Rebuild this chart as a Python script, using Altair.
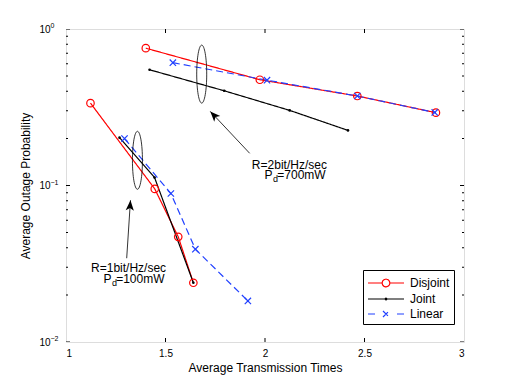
import altair as alt
import pandas as pd

# ---------------- data ----------------
SERIES = ["Disjoint", "Joint", "Linear"]
COLORS = ["#ff0000", "#000000", "#2040ff"]

# R = 2 bit/Hz/sec, Pd = 700 mW
dis_r2_x = [1.401, 1.974, 2.464, 2.859]
dis_r2_y = [0.754, 0.474, 0.373, 0.292]
joi_r2_x = [1.420, 1.795, 2.124, 2.417]
joi_r2_y = [0.549, 0.403, 0.302, 0.225]
lin_r2_x = [1.537, 2.010, 2.464, 2.853]
lin_r2_y = [0.609, 0.471, 0.373, 0.293]

# R = 1 bit/Hz/sec, Pd = 100 mW
dis_r1_x = [1.123, 1.446, 1.564, 1.640]
dis_r1_y = [0.336, 0.0951, 0.0470, 0.0239]
joi_r1_x = [1.269, 1.445, 1.640]
joi_r1_y = [0.2022, 0.1124, 0.0239]
lin_r1_x = [1.294, 1.527, 1.650, 1.914]
lin_r1_y = [0.1995, 0.0889, 0.0392, 0.0183]

# axis ticks / labels
x_ticks = [1, 1.5, 2, 2.5, 3]
x_inner_ticks = [1.5, 2, 2.5]
y_decades = [0.01, 0.1, 1]
y_exponents = ["\u22122", "\u22121", "0"]
y_minor = [0.02, 0.03, 0.04, 0.05, 0.06, 0.07, 0.08, 0.09,
           0.2, 0.3, 0.4, 0.5, 0.6, 0.7, 0.8, 0.9]

# annotations (data coordinates)
ell_x = [1.682, 1.359]
ell_y = [0.515, 0.1449]
arr_tail_x = [1.923, 1.305]
arr_tail_y = [0.1606, 0.0343]
arr_tip_x = [1.725, 1.324]
arr_tip_y = [0.2976, 0.0805]
lab_rate = ["R=2bit/Hz/sec", "R=1bit/Hz/sec"]
lab_rate_x = [2.311, 1.503]
lab_rate_y = [0.127, 0.02809]
lab_p_x = [1.998, 1.1885]
lab_pow = ["=700mW", "=100mW"]
lab_pow_x = [2.305, 1.4952]
lab_pow_y = [0.1096, 0.02389]

# ---------------- tables ----------------
rows = []
for name, curve, xs_, ys_ in [
    ("Disjoint", "r2", dis_r2_x, dis_r2_y),
    ("Joint", "r2", joi_r2_x, joi_r2_y),
    ("Linear", "r2", lin_r2_x, lin_r2_y),
    ("Disjoint", "r1", dis_r1_x, dis_r1_y),
    ("Joint", "r1", joi_r1_x, joi_r1_y),
    ("Linear", "r1", lin_r1_x, lin_r1_y),
]:
    for k, (a, b) in enumerate(zip(xs_, ys_)):
        rows.append({"series": name, "curve": name + "-" + curve, "k": k, "x": a, "y": b})
df = pd.DataFrame(rows)

ell_df = pd.DataFrame({"x": ell_x, "y": ell_y})
arr_df = pd.DataFrame({"x": arr_tail_x, "y": arr_tail_y, "x2": arr_tip_x, "y2": arr_tip_y})
rate_df = pd.DataFrame({"x": lab_rate_x, "y": lab_rate_y, "t": lab_rate})
p_df = pd.DataFrame({"x": lab_p_x, "y": lab_pow_y})
pow_df = pd.DataFrame({"x": lab_pow_x, "y": lab_pow_y, "t": lab_pow})
dec_df = pd.DataFrame({"v": y_decades, "e": y_exponents})
minor_df = pd.DataFrame({"v": y_minor})
xt_df = pd.DataFrame({"v": x_inner_ticks})

FONT = "Liberation Sans"
W, H = 398, 313

xsc = alt.Scale(domain=[1, 3], nice=False, zero=False)
ysc = alt.Scale(type="log", domain=[0.01, 1], nice=False)
csc = alt.Scale(domain=SERIES, range=COLORS)

x_axis = alt.Axis(values=x_ticks, format="~g", ticks=False, domain=False, grid=False,
                  labelFontSize=10, labelPadding=6, labelFont=FONT,
                  title="Average Transmission Times", titleFontSize=12,
                  titleFontWeight="normal", titleFont=FONT, titlePadding=4)
y_axis = alt.Axis(values=y_decades, labelExpr="'10'", ticks=False, domain=False,
                  grid=False, labelFontSize=10, labelPadding=16, labelFont=FONT,
                  labelBaseline="middle",
                  title="Average Outage Probability", titleFontSize=12,
                  titleFontWeight="normal", titleFont=FONT, titlePadding=6)


def XF(field):
    return alt.X(field, scale=xsc, axis=x_axis)


def YF(field):
    return alt.Y(field, scale=ysc, axis=y_axis)


X = XF("x:Q")
Y = YF("y:Q")

# legend (symbols = line + marker); unit = 8 px, line spans x -1 .. 3.5, marker at 1.25
circ = ("M1.725,0 C1.725,0.2623 1.5123,0.475 1.25,0.475 C0.9877,0.475 0.775,0.2623 0.775,0 "
        "C0.775,-0.2623 0.9877,-0.475 1.25,-0.475 C1.5123,-0.475 1.725,-0.2623 1.725,0 Z")
dot = ("M1.35,0 C1.35,0.055 1.305,0.1 1.25,0.1 C1.195,0.1 1.15,0.055 1.15,0 "
       "C1.15,-0.055 1.195,-0.1 1.25,-0.1 C1.305,-0.1 1.35,-0.055 1.35,0 Z")
leg_paths = [
    "M-1,0 L0.775,0 M1.725,0 L3.5,0 " + circ,
    "M-1,0 L3.5,0 " + dot,
    "M-1,0 L-0.125,0 M2.625,0 L3.5,0 M0.875,-0.375 L1.625,0.375 M0.875,0.375 L1.625,-0.375",
]
LEG_SIZE = 256
legend = alt.Legend(title=None, orient="none", legendX=297, legendY=241,
                    strokeColor="black", fillColor="white", padding=4,
                    cornerRadius=0, labelFont=FONT, labelFontSize=12,
                    symbolSize=LEG_SIZE, symbolStrokeWidth=1.2, labelOffset=25,
                    rowPadding=0, symbolFillColor="transparent")
C = alt.Color("series:N", scale=csc, legend=legend)

# ---------------- curves ----------------
lines = alt.Chart(df).mark_line(strokeWidth=1.2, clip=True).encode(
    x=X, y=Y, color=C,
    strokeDash=alt.StrokeDash("series:N", scale=alt.Scale(domain=SERIES, range=[[1, 0], [1, 0], [7, 4]]), legend=None),
    detail="curve:N",
    order="k:Q",
)

m_dis = alt.Chart(df).transform_filter("datum.series == 'Disjoint'").mark_point(
    shape="circle", filled=False, size=56, strokeWidth=1.2, color=COLORS[0], opacity=1
).encode(x=X, y=Y)
m_joi = alt.Chart(df).transform_filter("datum.series == 'Joint'").mark_point(
    shape="circle", filled=True, size=7, color=COLORS[1], opacity=1
).encode(x=X, y=Y)
XPATH = "M-1,-1L1,1M-1,1L1,-1"
m_lin = alt.Chart(df).transform_filter("datum.series == 'Linear'").mark_point(
    shape=XPATH, filled=False, size=40, strokeWidth=1.2, color=COLORS[2], opacity=1
).encode(x=X, y=Y)

leg = alt.Chart(df).transform_filter("false").mark_point(
    filled=False, size=LEG_SIZE, strokeWidth=1.2, opacity=1
).encode(
    x=X, y=Y, color=C,
    shape=alt.Shape("series:N", scale=alt.Scale(domain=SERIES, range=leg_paths), legend=legend),
)

# ---------------- annotations ----------------
ELL = ("M0,-1 C0.0952,-1 0.1724,-0.5523 0.1724,0 C0.1724,0.5523 0.0952,1 0,1 "
       "C-0.0952,1 -0.1724,0.5523 -0.1724,0 C-0.1724,-0.5523 -0.0952,-1 0,-1 Z")
ells = alt.Chart(ell_df).mark_point(shape=ELL, size=3364, filled=False, color="black",
                                     strokeWidth=0.8, opacity=1).encode(x=X, y=Y)
arrows = alt.Chart(arr_df).mark_rule(color="black", strokeWidth=0.8).encode(
    x=X, y=Y, x2="x2:Q", y2="y2:Q")
HEAD = "M0,0 L-0.4,1 L0,0.75 L0.4,1 Z"
head1 = alt.Chart(arr_df.iloc[[0]]).mark_point(shape=HEAD, size=420, filled=True, color="black",
                                               angle=317, opacity=1).encode(x=XF("x2:Q"), y=YF("y2:Q"))
head2 = alt.Chart(arr_df.iloc[[1]]).mark_point(shape=HEAD, size=420, filled=True, color="black",
                                               angle=4, opacity=1).encode(x=XF("x2:Q"), y=YF("y2:Q"))

t_rate = alt.Chart(rate_df).mark_text(align="right", baseline="alphabetic", font=FONT,
                                      fontSize=12).encode(x=X, y=Y, text="t:N")
t_p = alt.Chart(p_df).mark_text(align="left", baseline="alphabetic", font=FONT,
                                fontSize=12, text="P").encode(x=X, y=Y)
t_d = alt.Chart(p_df).mark_text(align="left", baseline="alphabetic", font=FONT,
                                fontSize=9, text="d", dx=8.5, dy=3).encode(x=X, y=Y)
t_pow = alt.Chart(pow_df).mark_text(align="right", baseline="alphabetic", font=FONT,
                                    fontSize=12).encode(x=X, y=Y, text="t:N")


# ---------------- inward ticks & exponent labels ----------------
def yticks(data, xval, length):
    return alt.Chart(data).mark_tick(orient="horizontal", size=length, thickness=1,
                                     color="black", clip=True, opacity=1).encode(
        x=alt.X(datum=xval, scale=xsc, axis=x_axis), y=YF("v:Q"))


def xticks(data, yval, length):
    return alt.Chart(data).mark_tick(orient="vertical", size=length, thickness=1,
                                     color="black", clip=True, opacity=1).encode(
        x=XF("v:Q"), y=alt.Y(datum=yval, scale=ysc, axis=y_axis))


ticks = [
    yticks(dec_df, 1, 8), yticks(dec_df, 3, 8),
    yticks(minor_df, 1, 4), yticks(minor_df, 3, 4),
    xticks(xt_df, 0.01, 8), xticks(xt_df, 1, 8),
]
exps = alt.Chart(dec_df).mark_text(align="left", baseline="alphabetic", font=FONT,
                                   fontSize=7, dx=-15.5, dy=-1).encode(
    x=alt.X(datum=1, scale=xsc, axis=x_axis), y=YF("v:Q"), text="e:N")

chart = alt.layer(
    lines, m_dis, m_joi, m_lin, leg, ells, arrows, head1, head2,
    t_rate, t_p, t_d, t_pow, *ticks, exps
).properties(
    width=W, height=H,
    autosize=alt.AutoSizeParams(type="none"),
    padding={"left": 58, "top": 21, "right": 40, "bottom": 40},
).configure_view(stroke="black", strokeWidth=1).configure(background="white")

chart.save("out.html", embed_options={"renderer": "svg", "actions": False})
